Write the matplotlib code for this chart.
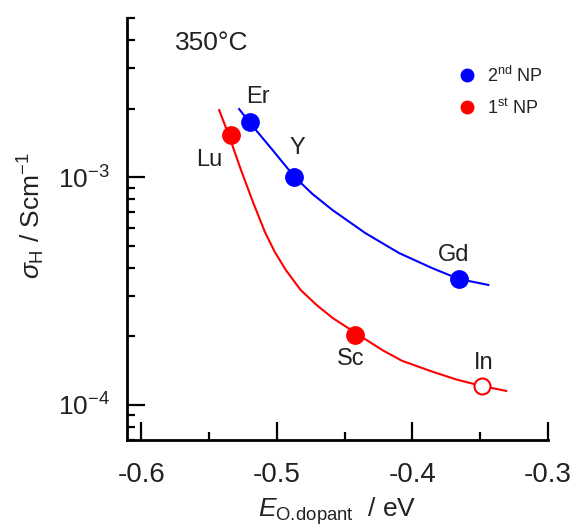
import numpy as np
import matplotlib
matplotlib.use("Agg")
import matplotlib.pyplot as plt
from matplotlib.lines import Line2D
from matplotlib.ticker import LogLocator, NullFormatter, FixedLocator

plt.rcParams['font.family'] = ['Liberation Sans', 'DejaVu Sans']
plt.rcParams['mathtext.fontset'] = 'custom'
plt.rcParams['mathtext.rm'] = 'Liberation Sans'
plt.rcParams['mathtext.it'] = 'Liberation Sans:italic'
plt.rcParams['mathtext.bf'] = 'Liberation Sans:bold'
plt.rcParams['axes.unicode_minus'] = False

# ---- data ----
# 2nd NP (blue) measured points
np2_names = ['Er', 'Y', 'Gd']
np2_x = [-0.520, -0.487, -0.366]
np2_y = [1.74e-3, 1.00e-3, 3.57e-4]
# 1st NP (red) measured points (In is open symbol)
np1_names = ['Lu', 'Sc']
np1_x = [-0.534, -0.442]
np1_y = [1.53e-3, 2.03e-4]
in_name = 'In'
in_x = [-0.349]
in_y = [1.21e-4]

# fitted guide curves
fit2_x = [-0.5278, -0.5198, -0.5029, -0.4868, -0.4736, -0.4590, -0.4348,
          -0.4099, -0.3857, -0.3659, -0.3440]
fit2_y = [1.99e-3, 1.73e-3, 1.31e-3, 1.00e-3, 8.42e-4, 7.17e-4, 5.68e-4,
          4.64e-4, 3.99e-4, 3.57e-4, 3.36e-4]
fit1_x = [-0.5425, -0.5344, -0.5264, -0.5176, -0.5088, -0.5015, -0.4934, -0.4824,
          -0.4700, -0.4590, -0.4421, -0.4223, -0.4077, -0.3857, -0.3674, -0.3491,
          -0.3308]
fit1_y = [1.97e-3, 1.47e-3, 1.073e-3, 7.77e-4, 5.74e-4, 4.69e-4, 3.91e-4, 3.19e-4,
          2.72e-4, 2.41e-4, 2.07e-4, 1.74e-4, 1.56e-4, 1.40e-4, 1.29e-4, 1.21e-4,
          1.15e-4]

x_ticks = [-0.6, -0.5, -0.4, -0.3]
x_minor = [-0.55, -0.45, -0.35]

BLUE = '#0000FF'
RED = '#FF0000'
TXT = '#222222'

fig = plt.figure(figsize=(5.77, 5.30), dpi=100)
ax = fig.add_axes([127/577, 1-440/530, 421/577, 422/530])

ax.plot(fit2_x, fit2_y, color=BLUE, lw=1.5, zorder=2)
ax.plot(fit1_x, fit1_y, color=RED, lw=1.5, zorder=2)
ax.plot(np2_x, np2_y, 'o', color=BLUE, ms=12.5, mec=BLUE, zorder=3)
ax.plot(np1_x, np1_y, 'o', color=RED, ms=12.5, mec=RED, zorder=3)
ax.plot(in_x, in_y, 'o', mfc='white', mec=RED, mew=1.5, ms=11.5, zorder=3)

ax.set_yscale('log')
ax.set_xlim(-0.6105, -0.3)
ax.set_ylim(7e-5, 5e-3)

ax.xaxis.set_major_locator(FixedLocator(x_ticks))
ax.xaxis.set_minor_locator(FixedLocator(x_minor))
ax.set_xticklabels(['%.1f' % v for v in x_ticks])
ax.yaxis.set_major_locator(LogLocator(base=10, numticks=10))
ax.yaxis.set_minor_locator(LogLocator(base=10, subs=np.arange(2, 10), numticks=20))
ax.yaxis.set_minor_formatter(NullFormatter())

for s in ['top', 'right']:
    ax.spines[s].set_visible(False)
for s in ['left', 'bottom']:
    ax.spines[s].set_linewidth(2.0)

ax.tick_params(axis='both', which='major', direction='in', length=13, width=1.6,
               color='black', labelcolor=TXT)
ax.tick_params(axis='both', which='minor', direction='in', length=6, width=1.6)
ax.tick_params(axis='x', which='major', pad=16, labelsize=20)
ax.tick_params(axis='y', which='major', pad=12, labelsize=19)

ax.set_xlabel(r'$E_{\rm O.\!dopant}$  / eV', fontsize=19, labelpad=5, color=TXT)
ax.set_ylabel(r'$\sigma_{\rm H}$ / Scm$^{-1}$', fontsize=19, color=TXT)
ax.yaxis.set_label_coords(-0.19, 0.531)

# point labels
offsets = {'Er': (8, 25), 'Y': (3, 29), 'Gd': (-5, 24), 'Lu': (-21, -25),
           'Sc': (-5, -24), 'In': (2, 23)}
for n, x, y in zip(np2_names, np2_x, np2_y):
    ax.annotate(n, (x, y), xytext=offsets[n], textcoords='offset pixels',
                ha='center', va='center', fontsize=17, color=TXT)
for n, x, y in zip(np1_names, np1_x, np1_y):
    ax.annotate(n, (x, y), xytext=offsets[n], textcoords='offset pixels',
                ha='center', va='center', fontsize=17, color=TXT)
ax.annotate(in_name, (in_x[0], in_y[0]), xytext=offsets[in_name], textcoords='offset pixels',
            ha='center', va='center', fontsize=17, color=TXT)

ax.text(0.202, 0.941, '350°C', transform=ax.transAxes, ha='center', va='center',
        fontsize=19, color=TXT)

handles = [Line2D([], [], ls='none', marker='o', color=BLUE, ms=9),
           Line2D([], [], ls='none', marker='o', color=RED, ms=9)]
leg = ax.legend(handles, [r'2$^{\rm nd}$ NP', r'1$^{\rm st}$ NP'], loc='upper left',
                bbox_to_anchor=(0.786, 0.887), frameon=False, fontsize=13,
                handlelength=1.0, handletextpad=0.6, labelspacing=0.67, borderpad=0,
                borderaxespad=0)
for t in leg.get_texts():
    t.set_color(TXT)

fig.savefig('out.png', dpi=100)
